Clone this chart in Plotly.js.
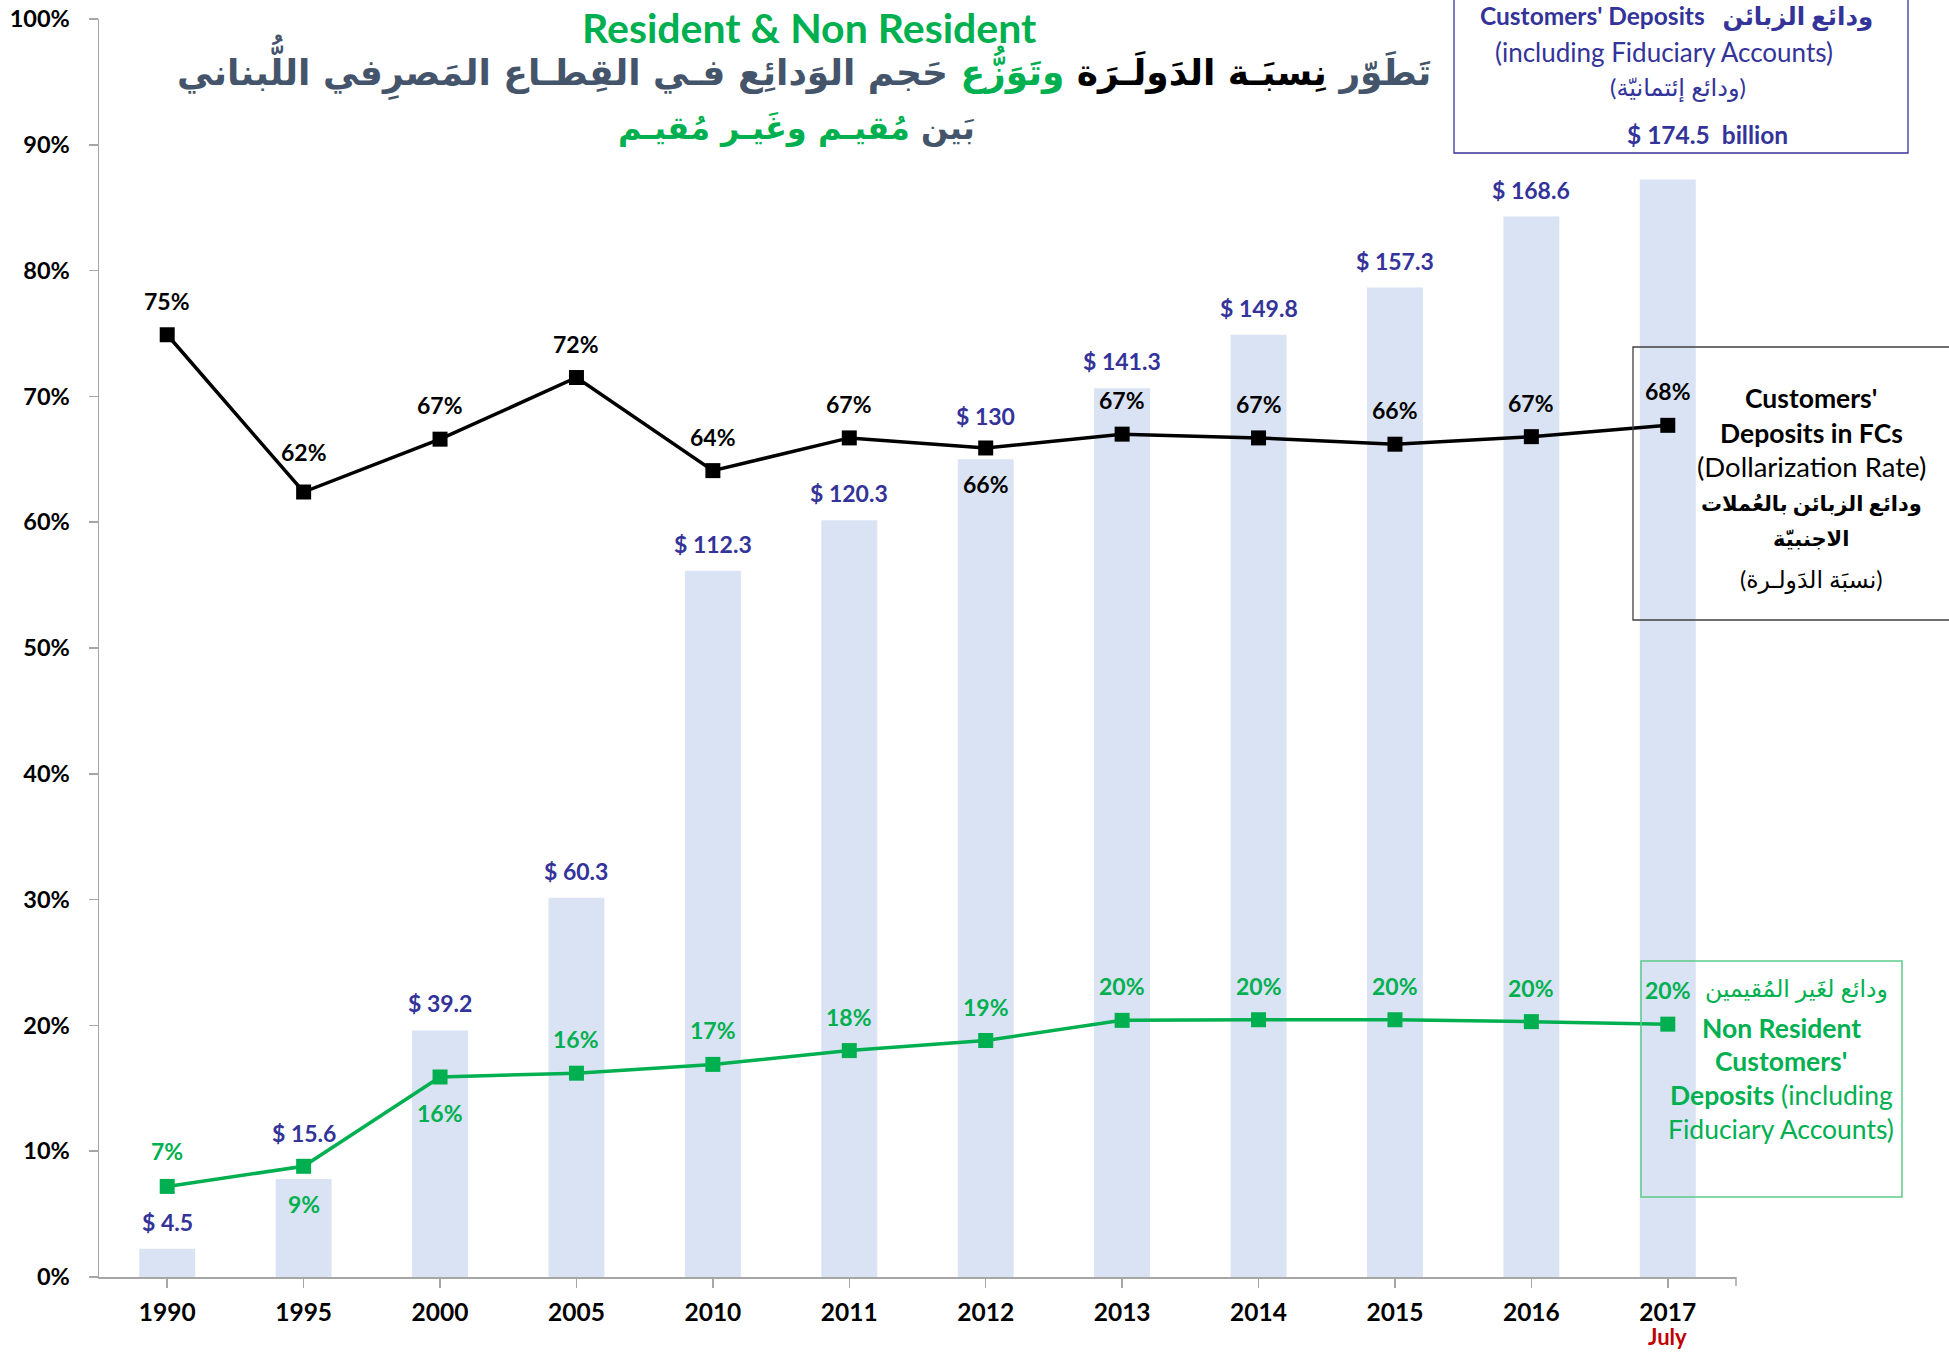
<!DOCTYPE html>
<html>
<head>
<meta charset="utf-8">
<script src="https://cdn.plot.ly/plotly-3.0.1.min.js"></script>
<style>html,body{margin:0;padding:0;background:#fff;}#chart{width:1949px;height:1353px;}</style>
</head>
<body>
<div id="chart"></div>
<script>
// ---------- DATA ----------
const years = ['1990','1995','2000','2005','2010','2011','2012','2013','2014','2015','2016','2017'];
const depositsBn = [4.5, 15.6, 39.2, 60.3, 112.3, 120.3, 130, 141.3, 149.8, 157.3, 168.6, 174.5];
const depositLabels = ['$ 4.5','$ 15.6','$ 39.2','$ 60.3','$ 112.3','$ 120.3','$ 130','$ 141.3','$ 149.8','$ 157.3','$ 168.6',''];
const dollarization = [74.9, 62.4, 66.6, 71.5, 64.1, 66.7, 65.9, 67.0, 66.7, 66.2, 66.8, 67.7];
const dollarizationLabels = ['75%','62%','67%','72%','64%','67%','66%','67%','67%','66%','67%','68%'];
const nonResident = [7.2, 8.8, 15.9, 16.2, 16.9, 18.0, 18.8, 20.4, 20.45, 20.45, 20.3, 20.1];
const nonResidentLabels = ['7%','9%','16%','16%','17%','18%','19%','20%','20%','20%','20%','20%'];
const yTickVals = [0,10,20,30,40,50,60,70,80,90,100];

// ---------- STYLE / PLACEMENT ----------
const W = 1949, H = 1353, L = 99, R = 1736, T = 19, B = 1277;
const px = x => (x - L) / (R - L);
const py = y => (B - y) / (B - T);
const FONT = 'Lato, "DejaVu Sans", sans-serif';
const BLUE = '#333399', GREEN = '#00B050', SLATE = '#44546A', BAR = '#DAE3F3';
const barShift = [27,46,27,27,27,27,43,27,27,27,27,0];
const blackShift = [34,40,34,34,34,34,-36,34,34,34,34,34];
const greenShift = [35,-38,-36,34,34,34,34,34,34,34,34,34];

const traces = [
  {type:'bar', x: years, y: depositsBn, yaxis:'y', marker:{color: BAR}, hoverinfo:'skip'},
  {type:'scatter', mode:'lines+markers', x: years, y: dollarization, yaxis:'y2',
   line:{color:'#000', width:3.5}, marker:{symbol:'square', size:15, color:'#000'}},
  {type:'scatter', mode:'lines+markers', x: years, y: nonResident, yaxis:'y2',
   line:{color: GREEN, width:3.5}, marker:{symbol:'square', size:15, color: GREEN}}
];

const annotations = [];
years.forEach((yr, i) => {
  if (depositLabels[i]) annotations.push({x: i, y: depositsBn[i], xref:'x', yref:'y', text: '<b>'+depositLabels[i]+'</b>',
    showarrow:false, yshift: barShift[i], font:{family: FONT, size:23, color: BLUE}});
  annotations.push({x: i, y: dollarization[i], xref:'x', yref:'y2', text: '<b>'+dollarizationLabels[i]+'</b>',
    showarrow:false, yshift: blackShift[i], font:{family: FONT, size:23, color:'#000'}});
  annotations.push({x: i, y: nonResident[i], xref:'x', yref:'y2', text: '<b>'+nonResidentLabels[i]+'</b>',
    showarrow:false, yshift: greenShift[i], font:{family: FONT, size:23, color: GREEN}});
});

function txt(cx, cy, text, size, color, family) {
  annotations.push({xref:'paper', yref:'paper', x: px(cx), y: py(cy), text: text, showarrow:false,
    xanchor:'center', yanchor:'middle', font:{family: family || FONT, size: size, color: color}});
}

// Titles
txt(809, 27, '<b>Resident &amp; Non Resident</b>', 41, GREEN);
txt(804, 67, '<b><span style="color:' + SLATE + '">تَطَوّر</span> <span style="color:#000">نِسبَـة الدَولَـرَة</span> <span style="color:' + GREEN + '">وتَوَزُّع</span> <span style="color:' + SLATE + '">حَجم الوَدائِع فـي القِطـاع المَصرِفي اللُّبناني</span></b>', 36, SLATE, '"DejaVu Sans", sans-serif');
txt(796, 128, '<b><span style="color:' + SLATE + '">بَين</span> <span style="color:' + GREEN + '">مُقيـم وغَيـر مُقيـم</span></b>', 32, SLATE, '"DejaVu Sans", sans-serif');

// Top-right box
txt(1676, 16, "<b>Customers' Deposits   ودائع الزبائن</b>", 24.5, BLUE);
txt(1664, 52, '(including Fiduciary Accounts)', 26, BLUE);
txt(1678, 87, '(ودائع إئتمانيّة)', 24, BLUE);
txt(1707, 134, '<b>$ 174.5  billion</b>', 24.5, BLUE);

// Right box (dollarization)
txt(1811, 398, "<b>Customers'</b>", 26.5, '#000');
txt(1811, 433, '<b>Deposits in FCs</b>', 26.5, '#000');
txt(1811, 467, '(Dollarization Rate)', 27.5, '#000');
txt(1811, 503, '<b>ودائع الزبائن بالعُملات</b>', 21, '#000');
txt(1811, 537, '<b>الاجنبيّة</b>', 21, '#000');
txt(1811, 579, '(نسبَة الدَولـرة)', 23.5, '#000');

// Green box
txt(1796, 988, 'ودائع لغَير المُقيمين', 23.5, GREEN);
txt(1781, 1028, '<b>Non Resident</b>', 26.5, GREEN);
txt(1781, 1061, "<b>Customers'</b>", 26.5, GREEN);
txt(1781, 1095, '<b>Deposits</b> (including', 26.5, GREEN);
txt(1781, 1129, 'Fiduciary Accounts)', 26.5, GREEN);

// July under 2017
annotations.push({x: years.length - 1, xref:'x', yref:'paper', y: py(1336), text:'<b>July</b>', showarrow:false,
  xanchor:'center', yanchor:'middle', font:{family: FONT, size:22, color:'#C00000'}});

const shapes = [
  {type:'rect', xref:'paper', yref:'paper', x0: px(1454), x1: px(1908), y0: py(-5), y1: py(153),
   line:{color: BLUE, width:1.3}, fillcolor:'rgba(0,0,0,0)'},
  {type:'rect', xref:'paper', yref:'paper', x0: px(1633), x1: px(1960), y0: py(347), y1: py(620),
   line:{color:'#404040', width:1.3}, fillcolor:'rgba(0,0,0,0)'},
  {type:'rect', xref:'paper', yref:'paper', x0: px(1641), x1: px(1902), y0: py(961), y1: py(1197),
   line:{color:'#5CCB8A', width:1.5}, fillcolor:'rgba(0,0,0,0)'},
  {type:'line', xref:'paper', yref:'paper', x0:1, x1:1, y0:0, y1:py(1286), line:{color:'#A6A6A6', width:1.5}}
];

const layout = {
  width: W, height: H,
  margin: {l: L, r: W - R, t: T, b: H - B, pad: 0},
  paper_bgcolor:'#fff', plot_bgcolor:'#fff',
  showlegend: false,
  bargap: 0.59,
  font: {family: FONT},
  xaxis: {type:'category', categoryorder:'array', categoryarray: years, range:[-0.5, 11.5],
    showline:true, linecolor:'#A6A6A6', linewidth:1.5, ticks:'outside', ticklen:9, tickcolor:'#A6A6A6', tickwidth:1.5,
    showgrid:false, zeroline:false, ticklabelstandoff: 4,
    tickfont:{family: FONT, size:24.5, color:'#000', weight:'bold'}},
  yaxis: {range:[0,200], visible:false, showgrid:false, zeroline:false},
  yaxis2: {overlaying:'y', side:'left', anchor:'x', range:[0,100], tickvals: yTickVals, ticktext: yTickVals.map(v => v + '%'),
    showline:true, linecolor:'#A6A6A6', linewidth:1.5, ticks:'outside', ticklen:9, tickcolor:'#A6A6A6', tickwidth:1.5,
    showgrid:false, zeroline:false, ticklabelstandoff: 14,
    tickfont:{family: FONT, size:23.5, color:'#000', weight:'bold'}},
  annotations: annotations,
  shapes: shapes
};

Plotly.newPlot('chart', traces, layout, {displayModeBar:false, staticPlot:true});
</script>
</body>
</html>
